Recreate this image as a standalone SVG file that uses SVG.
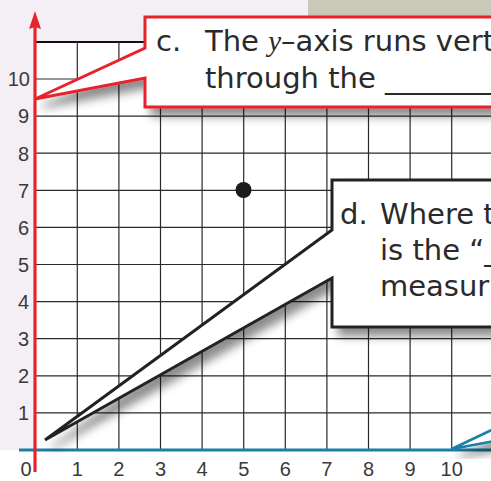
<svg xmlns="http://www.w3.org/2000/svg" width="491" height="481" viewBox="0 0 491 481">
<defs>
<style>
.grid line{stroke:#2a2a2a;stroke-width:1.2}
.lbl{font-family:"Liberation Sans",Arial,sans-serif;font-size:20px;fill:#3a3a3a}
.ytxt{text-anchor:end}
.xtxt{text-anchor:middle}
.ct{font-family:"DejaVu Sans","Liberation Sans",sans-serif;font-size:29px;fill:#2a2a2a}
</style>
<filter id="sh" x="-20%" y="-20%" width="150%" height="160%">
<feDropShadow dx="7" dy="8" stdDeviation="5" flood-color="#000" flood-opacity="0.45"/>
</filter>
</defs>
<rect x="0" y="0" width="491" height="481" fill="#f4eff4"/>
<rect x="308" y="0" width="183" height="16" fill="#c9c9b9"/>
<rect x="0" y="450" width="491" height="31" fill="#ffffff"/>
<rect x="35" y="42" width="456" height="408" fill="#ffffff"/>
<g class="grid" id="grid">
<line x1="35" y1="412.9" x2="491" y2="412.9"/>
<line x1="35" y1="375.8" x2="491" y2="375.8"/>
<line x1="35" y1="338.7" x2="491" y2="338.7"/>
<line x1="35" y1="301.6" x2="491" y2="301.6"/>
<line x1="35" y1="264.5" x2="491" y2="264.5"/>
<line x1="35" y1="227.4" x2="491" y2="227.4"/>
<line x1="35" y1="190.3" x2="491" y2="190.3"/>
<line x1="35" y1="153.2" x2="491" y2="153.2"/>
<line x1="35" y1="116.1" x2="491" y2="116.1"/>
<line x1="35" y1="79" x2="491" y2="79"/>
<line x1="35" y1="42" x2="491" y2="42" style="stroke:#111;stroke-width:2"/>
<line x1="77.3" y1="42" x2="77.3" y2="450"/>
<line x1="118.9" y1="42" x2="118.9" y2="450"/>
<line x1="160.5" y1="42" x2="160.5" y2="450"/>
<line x1="202.1" y1="42" x2="202.1" y2="450"/>
<line x1="243.7" y1="42" x2="243.7" y2="450"/>
<line x1="285.3" y1="42" x2="285.3" y2="450"/>
<line x1="326.9" y1="42" x2="326.9" y2="450"/>
<line x1="368.5" y1="42" x2="368.5" y2="450"/>
<line x1="410.1" y1="42" x2="410.1" y2="450"/>
<line x1="451.7" y1="42" x2="451.7" y2="450"/>
</g>
<g id="point"><circle cx="243.5" cy="190" r="8" fill="#1e1a1a"/></g>
<g id="labels">
<text class="lbl ytxt" x="29" y="420">1</text>
<text class="lbl ytxt" x="29" y="383">2</text>
<text class="lbl ytxt" x="29" y="346">3</text>
<text class="lbl ytxt" x="29" y="309">4</text>
<text class="lbl ytxt" x="29" y="271.5">5</text>
<text class="lbl ytxt" x="29" y="234.5">6</text>
<text class="lbl ytxt" x="29" y="197.5">7</text>
<text class="lbl ytxt" x="29" y="160.5">8</text>
<text class="lbl ytxt" x="29" y="123">9</text>
<text class="lbl ytxt" x="30" y="86">10</text>
<text class="lbl xtxt" x="26" y="476">0</text>
<text class="lbl xtxt" x="77.3" y="476">1</text>
<text class="lbl xtxt" x="118.9" y="476">2</text>
<text class="lbl xtxt" x="160.5" y="476">3</text>
<text class="lbl xtxt" x="202.1" y="476">4</text>
<text class="lbl xtxt" x="243.7" y="476">5</text>
<text class="lbl xtxt" x="285.3" y="476">6</text>
<text class="lbl xtxt" x="326.9" y="476">7</text>
<text class="lbl xtxt" x="368.5" y="476">8</text>
<text class="lbl xtxt" x="410.1" y="476">9</text>
<text class="lbl xtxt" x="451.7" y="476">10</text>
</g>
<g id="connectors">
<line x1="19" y1="450" x2="491" y2="450" stroke="#1b7fa6" stroke-width="3.2"/>
<line x1="35" y1="26" x2="35" y2="472" stroke="#e8232b" stroke-width="3.2"/>
<polygon points="35,11 29,29 35,27 41,29" fill="#e8232b"/>
</g>
<g id="callout-e">
<path d="M 500 426 L 451.7 449 L 500 440 Z" fill="#ffffff" stroke="#1b7fa6" stroke-width="2.5" stroke-linejoin="miter" filter="url(#sh)"/>
</g>
<g id="callout-d">
<path d="M 500 180 L 332 180 L 332 230 L 45 440 L 332 278 L 332 327 L 500 327" fill="#ffffff" stroke="#222" stroke-width="3" stroke-linejoin="miter" filter="url(#sh)"/>
<text class="ct" x="340" y="224">d.</text>
<text class="ct" x="380" y="224">Where t</text>
<text class="ct" x="380" y="260">is the “_</text>
<text class="ct" x="380" y="296">measur</text>
</g>
<g id="callout-c">
<path d="M 500 17 L 145 17 L 145 48 L 35 99 L 145 78 L 145 107 L 500 107" fill="#ffffff" stroke="#e8232b" stroke-width="3" stroke-linejoin="miter" filter="url(#sh)"/>
<text class="ct" x="156" y="51">c.</text>
<text class="ct" x="205" y="51">The <tspan font-family="'Liberation Serif',serif" font-style="italic">y</tspan>–axis runs verti</text>
<text class="ct" x="205" y="88">through the _________</text>
</g>
</svg>
